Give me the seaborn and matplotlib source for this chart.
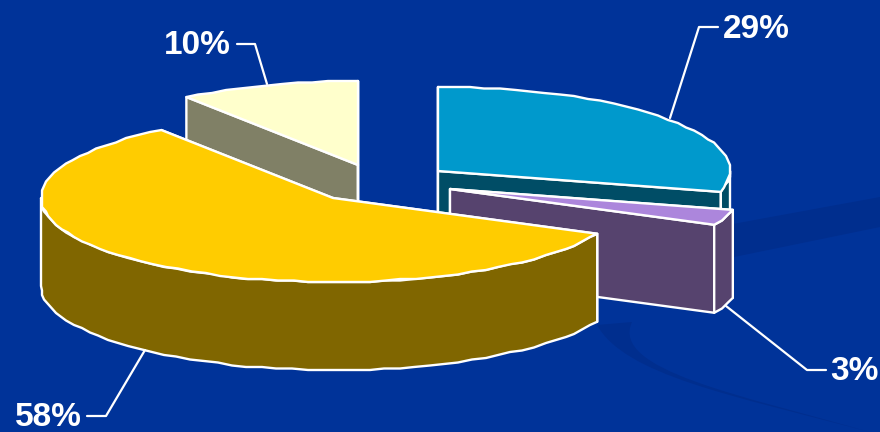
import numpy as np
import matplotlib
matplotlib.use("Agg")
import matplotlib.pyplot as plt
from matplotlib.patches import PathPatch
from matplotlib.path import Path
import seaborn as sns

# clockwise from 12 o'clock
shares = [29, 3, 58, 10]
top_colors = ["#0099CC", "#AC86DC", "#FFCC00", "#FFFFCC"]

# layout in pixels
apex = {29: (438, 171), 3: (450, 189), 58: (333, 198), 10: (358, 165)}
label_pos = {29: (756, 29), 3: (854, 372), 58: (48, 418), 10: (197, 46)}
leaders = {29: [(670, 118), (699, 27), (718, 27)],
           3: [(726, 306), (807, 370), (826, 370)],
           58: [(145, 350), (106, 416), (87, 416)],
           10: [(267, 84), (255, 44), (237, 44)]}
draw_order = [29, 3, 10, 58]
rx, ry, depth = 292, 84, 88
bg = "#003399"
swoosh = "#002E8E"

sns.set_theme(style="white", rc={"figure.facecolor": bg, "axes.facecolor": bg})
plt.rcParams["font.family"] = ["Liberation Sans", "DejaVu Sans"]

fig = plt.figure(figsize=(8.8, 4.32), dpi=100)
ax = fig.add_axes([0, 0, 1, 1])
ax.set_xlim(0, 880)
ax.set_ylim(432, 0)
ax.axis("off")

# background swooshes
C, M, L = Path.CURVE4, Path.MOVETO, Path.LINETO
band = Path([(700, 230), (880, 197), (880, 227), (700, 264), (700, 230)], [M, L, L, L, L])
ax.add_patch(PathPatch(band, fc=swoosh, ec="none", zorder=0))
arc = Path([(597, 325), (625, 375), (730, 395), (870, 432),
            (740, 395), (610, 370), (632, 322), (597, 325)],
           [M, C, C, C, C, C, C, L])
ax.add_patch(PathPatch(arc, fc=swoosh, ec="none", zorder=0))


def rim(cx, cy, a0, a1, dy=0):
    # points on the rim, snapped a little so the edge looks like the rough original
    n = max(2, int(abs(a1 - a0) / 3))
    t = np.radians(np.linspace(a0, a1, n + 1))
    x = cx + rx * np.sin(t)
    y = cy - ry * np.cos(t)
    x[1:-1] = np.round(x[1:-1] / 2) * 2
    y[1:-1] = np.round(y[1:-1] / 1.5) * 1.5
    return np.column_stack([x, y + dy])


def face(pts, color, z):
    ax.fill(pts[:, 0], pts[:, 1], fc=color, ec="white", lw=1.7, joinstyle="round", zorder=z)


starts = np.cumsum([0] + shares[:-1]) * 3.6
ends = np.cumsum(shares) * 3.6
sides = [tuple(c * 0.5 for c in sns.color_palette([t])[0]) for t in top_colors]

for z, share in enumerate(draw_order):
    i = shares.index(share)
    a0, a1 = starts[i], ends[i]
    cx, cy = apex[share]
    base = 10 + z * 5

    # cut faces
    for a in (a0, a1):
        t = np.radians(a)
        ex, ey = cx + rx * np.sin(t), cy - ry * np.cos(t)
        pts = np.array([(cx, cy), (ex, ey), (ex, ey + depth), (cx, cy + depth)])
        face(pts, sides[i], base)

    # outer wall, only the part that faces the viewer
    lo, hi = max(a0, 90), min(a1, 270)
    if lo < hi:
        upper = rim(cx, cy, lo, hi)
        lower = rim(cx, cy, lo, hi, depth)
        face(np.vstack([upper, lower[::-1]]), sides[i], base + 1)

    # top
    top = np.vstack([[(cx, cy)], rim(cx, cy, a0, a1)])
    face(top, top_colors[i], base + 2)

for share in shares:
    pts = np.array(leaders[share])
    ax.plot(pts[:, 0], pts[:, 1], color="white", lw=1.6, zorder=40)
    ax.text(*label_pos[share], f"{share}%", color="white", fontsize=24,
            fontweight="bold", ha="center", va="center", zorder=41)

fig.savefig("out.png", dpi=100, facecolor=bg)
